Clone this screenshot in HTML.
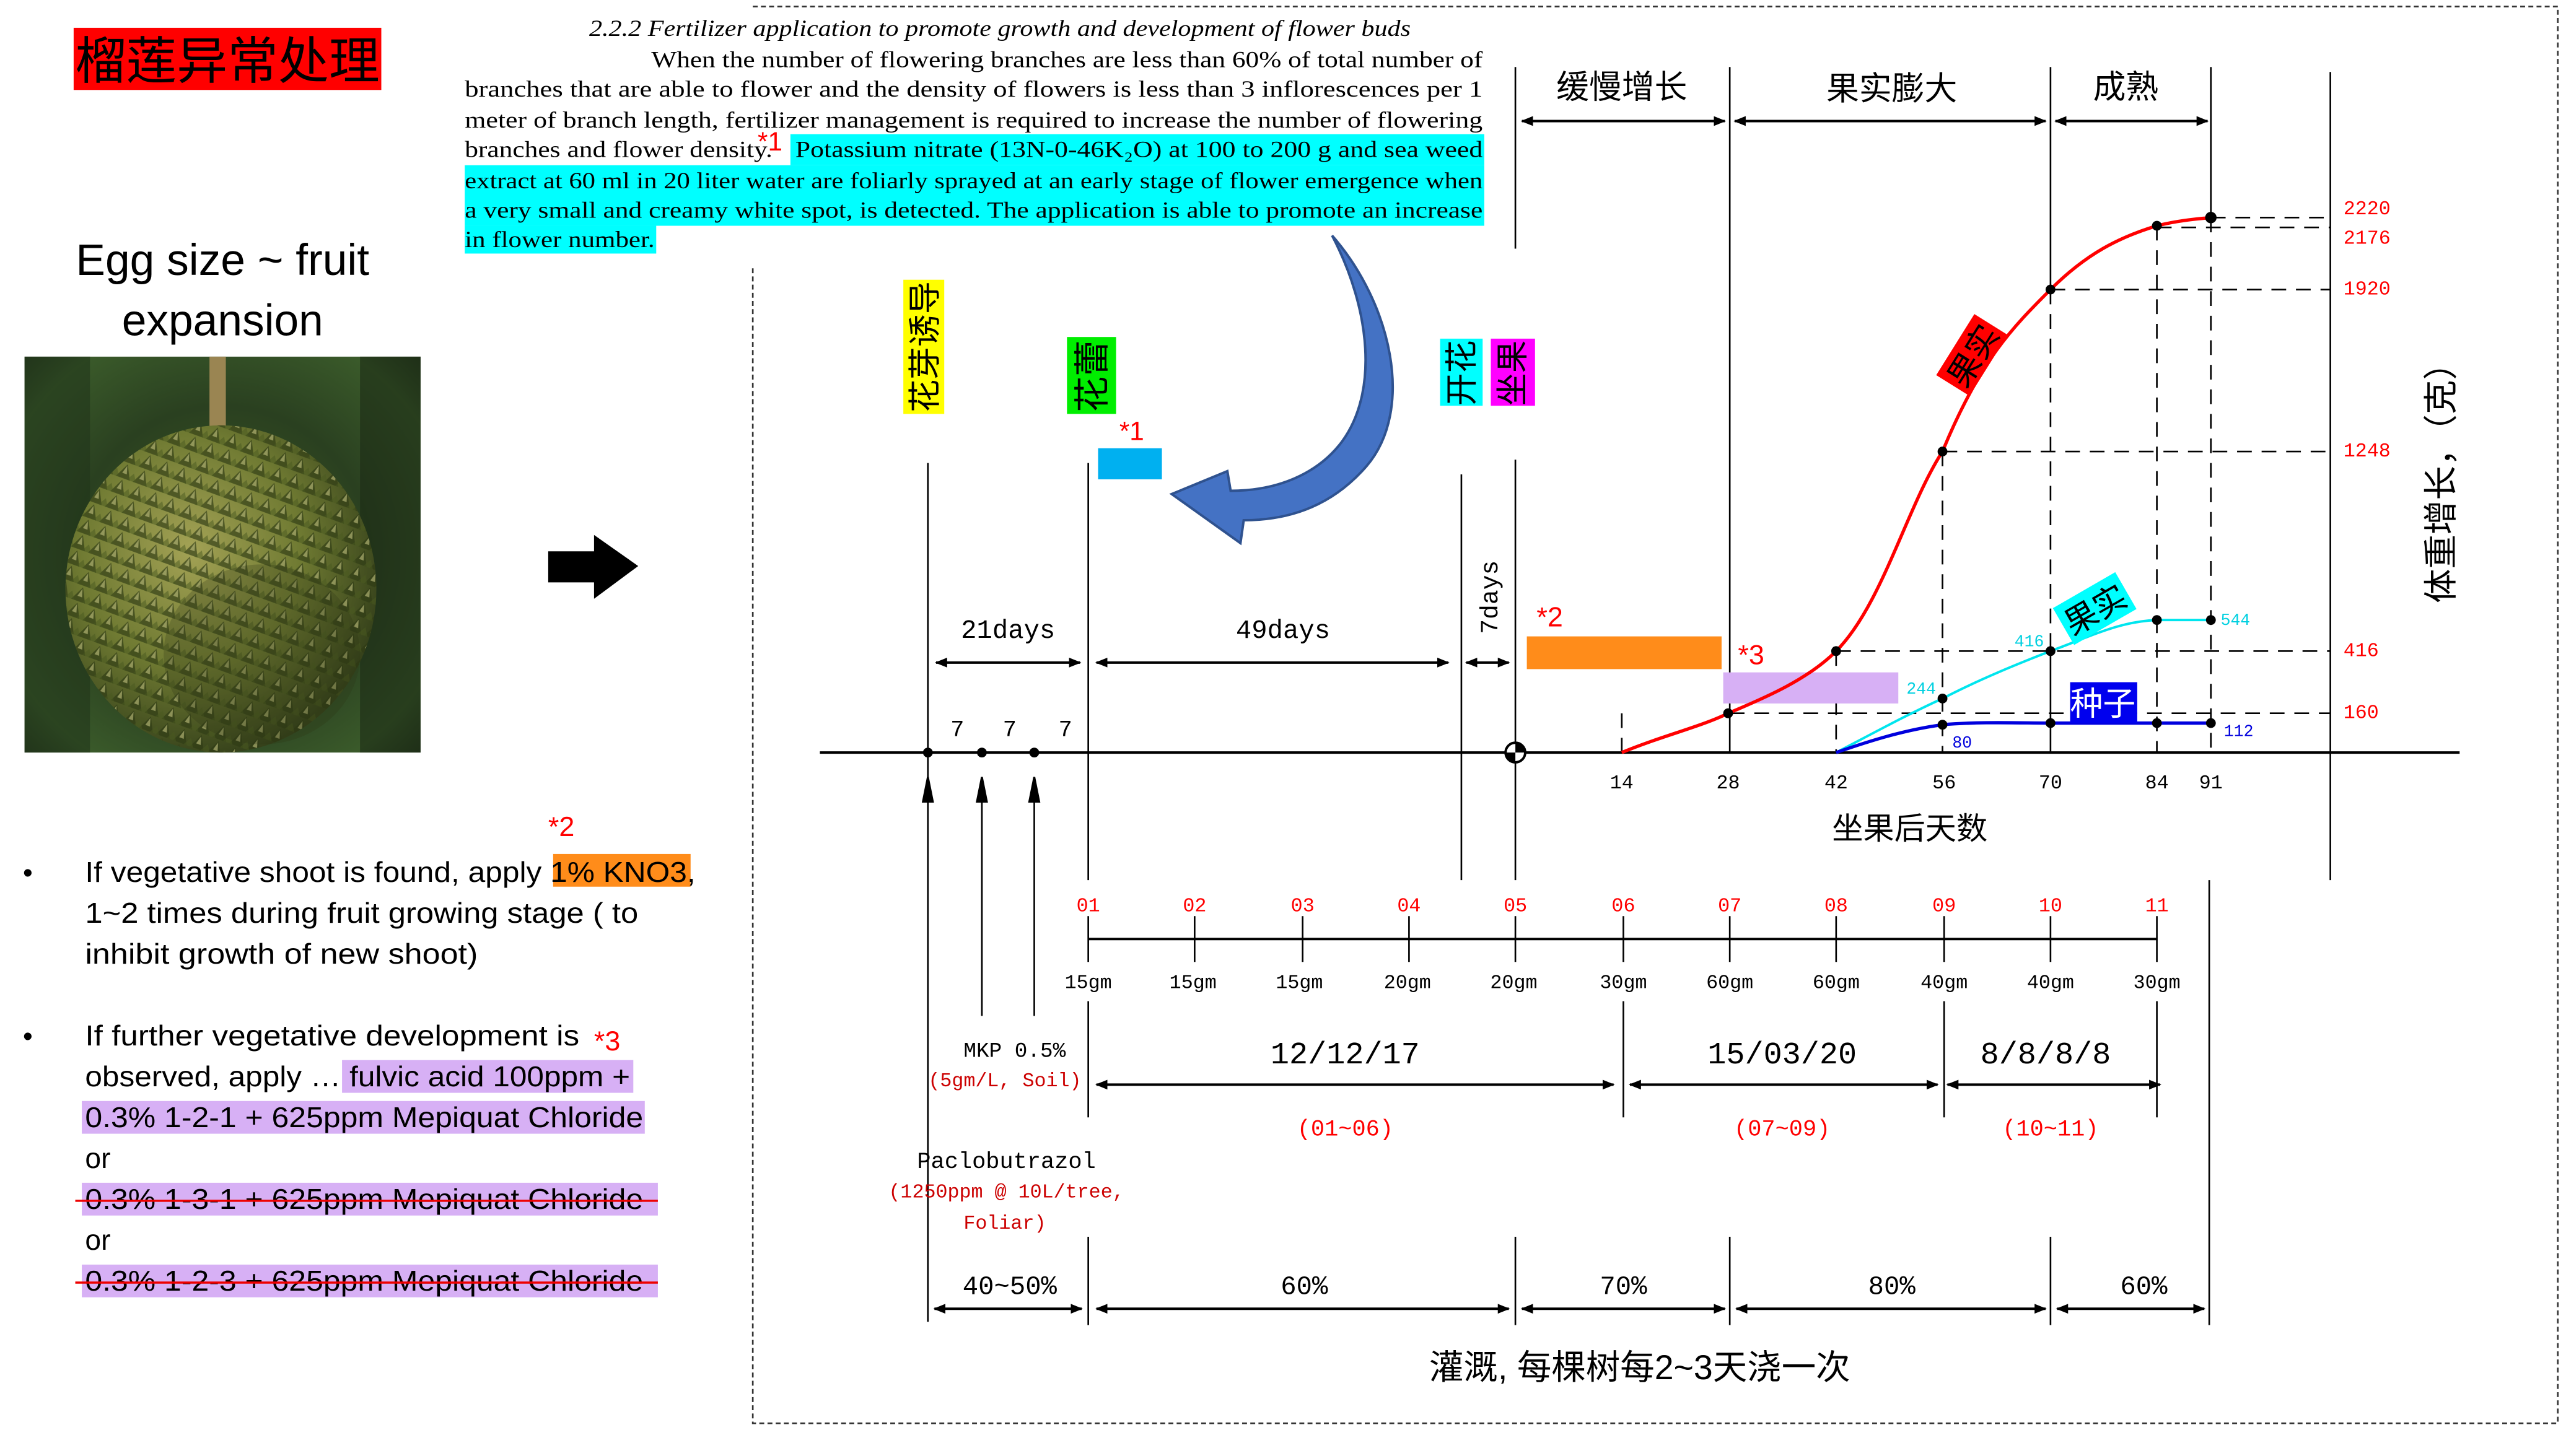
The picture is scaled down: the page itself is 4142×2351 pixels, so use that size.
<!DOCTYPE html>
<html><head><meta charset="utf-8"><style>
html,body{margin:0;padding:0;background:#fff;}
svg{display:block;}
.s{font-family:"Liberation Serif","Noto Serif CJK SC",serif;}
.m{font-family:"Liberation Mono","DejaVu Sans Mono",monospace;}
.c{font-family:"Liberation Sans","Noto Sans CJK SC",sans-serif;}
</style></head><body>
<svg width="4142" height="2351" viewBox="0 0 1568 890" xmlns="http://www.w3.org/2000/svg">
<defs>
<marker id="ah" viewBox="0 0 10 10" refX="9" refY="5" markerWidth="5" markerHeight="5" orient="auto-start-reverse"><path d="M0,1 L10,5 L0,9 z" fill="#000"/></marker>
<radialGradient id="bg" cx="50%" cy="50%" r="75%"><stop offset="0" stop-color="#3f5a25"/><stop offset="0.5" stop-color="#2a4020"/><stop offset="0.8" stop-color="#3a5a2a"/><stop offset="1" stop-color="#1a2815"/></radialGradient>
<radialGradient id="fr" cx="40%" cy="38%" r="65%"><stop offset="0" stop-color="#a3a255"/><stop offset="0.55" stop-color="#6f7a32"/><stop offset="1" stop-color="#34401a"/></radialGradient>
<pattern id="sp" width="11" height="10" patternUnits="userSpaceOnUse" patternTransform="rotate(20)"><path d="M5.5,0 L10,9 L1,9 z" fill="#2e3a14" opacity="0.65"/><path d="M5.5,1 L7,6 L4,6 z" fill="#d0cf8a" opacity="0.55"/><path d="M0,4 L3,9 L-3,9 z M11,4 L14,9 L8,9 z" fill="#4a5a20" opacity="0.5"/></pattern>
</defs>

<!-- left panel -->
<rect x="45" y="17" width="188" height="38" fill="#ff0000"/>
<text x="139" y="48" class="c" font-size="31" text-anchor="middle" fill="#000">榴莲异常处理</text>
<text x="136" y="168" class="c" font-size="27" text-anchor="middle">Egg size ~  fruit</text>
<text x="136" y="205" class="c" font-size="27" text-anchor="middle">expansion</text>
<rect x="15" y="218" width="242" height="242" fill="url(#bg)"/>
<rect x="15" y="218" width="40" height="242" fill="#22361a" opacity="0.6"/>
<rect x="220" y="218" width="37" height="242" fill="#1c2c16" opacity="0.6"/>
<rect x="128" y="218" width="10" height="55" fill="#9a8552"/>
<ellipse cx="135" cy="360" rx="95" ry="100" fill="url(#fr)"/>
<ellipse cx="135" cy="360" rx="95" ry="100" fill="url(#sp)"/>
<ellipse cx="160" cy="400" rx="60" ry="55" fill="#2a3412" opacity="0.25"/>
<path d="M335,337 H363 V327 L390,346 L363,366 V356 H335 z" fill="#000"/>

<text x="335" y="511" class="c" font-size="17" fill="#ff0000">*2</text>
<text x="14" y="539" class="c" font-size="17">•</text>
<rect x="338" y="522" width="84" height="20" fill="#ff8c1a"/>
<text x="52" y="539" class="c" font-size="17.5" textLength="373" lengthAdjust="spacingAndGlyphs">If vegetative shoot is found, apply 1% KNO3,</text>
<text x="52" y="564" class="c" font-size="17.5" textLength="338" lengthAdjust="spacingAndGlyphs">1~2 times during fruit growing stage ( to</text>
<text x="52" y="589" class="c" font-size="17.5" textLength="240" lengthAdjust="spacingAndGlyphs">inhibit growth of new shoot)</text>
<text x="14" y="639" class="c" font-size="17">•</text>
<text x="52" y="639" class="c" font-size="17.5" textLength="302" lengthAdjust="spacingAndGlyphs">If further vegetative development is</text>
<text x="363" y="642" class="c" font-size="17" fill="#ff0000">*3</text>
<rect x="209" y="648" width="178" height="20" fill="#d7b0f5"/>
<rect x="50" y="673" width="344" height="20" fill="#d7b0f5"/>
<rect x="50" y="723" width="352" height="20" fill="#d7b0f5"/>
<rect x="50" y="773" width="352" height="20" fill="#d7b0f5"/>
<text x="52" y="664" class="c" font-size="17.5" textLength="333" lengthAdjust="spacingAndGlyphs">observed, apply … fulvic acid 100ppm +</text>
<text x="52" y="689" class="c" font-size="17.5" textLength="341" lengthAdjust="spacingAndGlyphs">0.3% 1-2-1 + 625ppm Mepiquat Chloride</text>
<text x="52" y="714" class="c" font-size="17.5">or</text>
<text x="52" y="739" class="c" font-size="17.5" textLength="341" lengthAdjust="spacingAndGlyphs">0.3% 1-3-1 + 625ppm Mepiquat Chloride</text>
<text x="52" y="764" class="c" font-size="17.5">or</text>
<text x="52" y="789" class="c" font-size="17.5" textLength="341" lengthAdjust="spacingAndGlyphs">0.3% 1-2-3 + 625ppm Mepiquat Chloride</text>
<line x1="46" y1="734" x2="402" y2="734" stroke="#e00" stroke-width="1.3"/>
<line x1="46" y1="784" x2="402" y2="784" stroke="#e00" stroke-width="1.3"/>

<!-- paragraph -->
<rect x="483" y="82" width="424" height="19" fill="#00ffff"/>
<rect x="284" y="101" width="623" height="19" fill="#00ffff"/>
<rect x="284" y="120" width="623" height="18" fill="#00ffff"/>
<rect x="284" y="138" width="117" height="17" fill="#00ffff"/>
<g class="s" font-size="14">
<text x="360" y="22" font-style="italic" textLength="502" lengthAdjust="spacingAndGlyphs">2.2.2 Fertilizer application to promote growth and development of flower buds</text>
<text x="398" y="41" textLength="508" lengthAdjust="spacingAndGlyphs">When the number of flowering branches are less than 60% of total number of</text>
<text x="284" y="59" textLength="622" lengthAdjust="spacingAndGlyphs">branches that are able to flower and the density of flowers is less than 3 inflorescences per 1</text>
<text x="284" y="78" textLength="622" lengthAdjust="spacingAndGlyphs">meter of branch length, fertilizer management is required to increase the number of flowering</text>
<text x="284" y="96" textLength="188" lengthAdjust="spacingAndGlyphs">branches and flower density.</text>
<text x="486" y="96" textLength="420" lengthAdjust="spacingAndGlyphs">Potassium nitrate (13N-0-46K₂O) at 100 to 200 g and sea weed</text>
<text x="284" y="115" textLength="622" lengthAdjust="spacingAndGlyphs">extract at 60 ml in 20 liter water are foliarly sprayed at an early stage of flower emergence when</text>
<text x="284" y="133" textLength="622" lengthAdjust="spacingAndGlyphs">a very small and creamy white spot, is detected.  The application is able to promote an increase</text>
<text x="284" y="151" textLength="116" lengthAdjust="spacingAndGlyphs">in flower number.</text>
</g>
<text x="463" y="92" class="c" font-size="16" fill="#ff0000">*1</text>

<!-- dashed border -->
<path d="M460,4 H1563 V870 H460 V163" fill="none" stroke="#333" stroke-width="1" stroke-dasharray="3,2"/>

<!-- big blue curved arrow -->
<path d="M814,144 C850,185 865,250 835,285 C815,308 790,318 760,318 L758,332 L716,302 L750,288 L752,300 C780,300 805,290 820,270 C842,240 838,190 814,144 z" fill="#4472c4" stroke="#2f528f" stroke-width="1.5"/>

<!-- vertical labels -->
<rect x="552" y="171" width="25" height="82" fill="#ffff00"/>
<text transform="translate(572,212) rotate(-90)" class="c" font-size="20" text-anchor="middle">花芽诱导</text>
<rect x="652" y="206" width="30" height="47" fill="#00ee00"/>
<text transform="translate(675,230) rotate(-90)" class="c" font-size="22" text-anchor="middle">花蕾</text>
<rect x="880" y="207" width="26" height="41" fill="#00ffff"/>
<text transform="translate(900,228) rotate(-90)" class="c" font-size="20" text-anchor="middle">开花</text>
<rect x="911" y="207" width="27" height="41" fill="#ff00ff"/>
<text transform="translate(931,228) rotate(-90)" class="c" font-size="20" text-anchor="middle">坐果</text>
<rect x="671" y="274" width="39" height="19" fill="#00b0f0"/>
<text x="684" y="269" class="c" font-size="16" fill="#ff0000">*1</text>

<!-- vertical lines -->
<g stroke="#000" stroke-width="1">
<line x1="567" y1="283" x2="567" y2="808"/>
<line x1="665" y1="283" x2="665" y2="538"/>
<line x1="893" y1="290" x2="893" y2="538"/>
<line x1="926" y1="41" x2="926" y2="152"/>
<line x1="926" y1="281" x2="926" y2="538"/>
<line x1="1057" y1="41" x2="1057" y2="460"/>
<line x1="1253" y1="41" x2="1253" y2="177"/>
<line x1="1253" y1="398" x2="1253" y2="460"/>
<line x1="1351" y1="41" x2="1351" y2="133"/>
<line x1="1424" y1="44" x2="1424" y2="538"/>
<line x1="1350" y1="538" x2="1350" y2="810"/>
<line x1="600" y1="475" x2="600" y2="621"/>
<line x1="632" y1="475" x2="632" y2="621"/>
<line x1="665" y1="612" x2="665" y2="683"/>
<line x1="992" y1="612" x2="992" y2="683"/>
<line x1="1188" y1="612" x2="1188" y2="683"/>
<line x1="1318" y1="612" x2="1318" y2="683"/>
<line x1="665" y1="756" x2="665" y2="810"/>
<line x1="926" y1="756" x2="926" y2="810"/>
<line x1="1057" y1="756" x2="1057" y2="810"/>
<line x1="1253" y1="756" x2="1253" y2="810"/>
</g>
<g stroke="#000" stroke-width="1" stroke-dasharray="9,6" fill="none">
<line x1="1253" y1="177" x2="1253" y2="398"/>
<line x1="1351" y1="133" x2="1351" y2="460"/>
<line x1="1318" y1="138" x2="1318" y2="460"/>
<line x1="1187" y1="276" x2="1187" y2="460"/>
<line x1="1122" y1="398" x2="1122" y2="460"/>
<line x1="991" y1="436" x2="991" y2="460"/>
<line x1="1351" y1="133" x2="1424" y2="133"/>
<line x1="1318" y1="139" x2="1424" y2="139"/>
<line x1="1253" y1="177" x2="1424" y2="177"/>
<line x1="1187" y1="276" x2="1424" y2="276"/>
<line x1="1122" y1="398" x2="1424" y2="398"/>
<line x1="1057" y1="436" x2="1424" y2="436"/>
</g>

<!-- phase arrows -->
<g stroke="#000" stroke-width="1.5" marker-start="url(#ah)" marker-end="url(#ah)">
<line x1="930" y1="74" x2="1054" y2="74"/>
<line x1="1060" y1="74" x2="1250" y2="74"/>
<line x1="1256" y1="74" x2="1349" y2="74"/>
<line x1="572" y1="405" x2="660" y2="405"/>
<line x1="670" y1="405" x2="885" y2="405"/>
<line x1="896" y1="405" x2="922" y2="405"/>
<line x1="670" y1="663" x2="986" y2="663"/>
<line x1="996" y1="663" x2="1184" y2="663"/>
<line x1="1190" y1="663" x2="1320" y2="663"/>
<line x1="571" y1="800" x2="661" y2="800"/>
<line x1="670" y1="800" x2="922" y2="800"/>
<line x1="930" y1="800" x2="1054" y2="800"/>
<line x1="1061" y1="800" x2="1250" y2="800"/>
<line x1="1257" y1="800" x2="1347" y2="800"/>
</g>
<g class="c" font-size="20" text-anchor="middle">
<text x="991" y="60">缓慢增长</text>
<text x="1156" y="61">果实膨大</text>
<text x="1299" y="60">成熟</text>
<text x="1167" y="513" font-size="19">坐果后天数</text>
<text x="1002" y="843" font-size="21">灌溉, 每棵树每2~3天浇一次</text>
</g>
<text transform="translate(1499,290) rotate(-90)" class="c" font-size="21" text-anchor="middle">体重增长，（克）</text>

<!-- axis -->
<line x1="501" y1="460" x2="1503" y2="460" stroke="#000" stroke-width="1.5"/>
<circle cx="926" cy="460" r="6" fill="#fff" stroke="#000" stroke-width="1.5"/>
<path d="M926,454 A6,6 0 0 1 932,460 H926 z M926,466 A6,6 0 0 1 920,460 H926 z" fill="#000"/>
<g fill="#000"><circle cx="567" cy="460" r="3"/><circle cx="600" cy="460" r="3"/><circle cx="632" cy="460" r="3"/></g>
<g stroke="#000" stroke-width="1.2"><line x1="567" y1="490" x2="567" y2="475"/><path d="M564,490 L567,475 L570,490 z" fill="#000"/><line x1="600" y1="490" x2="600" y2="475"/><path d="M597,490 L600,475 L603,490 z" fill="#000"/><line x1="632" y1="490" x2="632" y2="475"/><path d="M629,490 L632,475 L635,490 z" fill="#000"/></g>
<g class="m" font-size="14" text-anchor="middle">
<text x="585" y="450">7</text><text x="617" y="450">7</text><text x="651" y="450">7</text>
<text x="616" y="390" font-size="16">21days</text>
<text x="784" y="390" font-size="16">49days</text>
<text transform="translate(915,365) rotate(-90)" font-size="15">7days</text>
<text x="991" y="482" font-size="12">14</text><text x="1056" y="482" font-size="12">28</text><text x="1122" y="482" font-size="12">42</text><text x="1188" y="482" font-size="12">56</text><text x="1253" y="482" font-size="12">70</text><text x="1318" y="482" font-size="12">84</text><text x="1351" y="482" font-size="12">91</text>
</g>
<g class="m" font-size="12" fill="#ff0000">
<text x="1432" y="131">2220</text><text x="1432" y="149">2176</text><text x="1432" y="180">1920</text><text x="1432" y="279">1248</text><text x="1432" y="401">416</text><text x="1432" y="439">160</text>
</g>

<!-- bars -->
<rect x="933" y="389" width="119" height="20" fill="#ff8c1a"/>
<text x="939" y="383" class="c" font-size="17" fill="#ff0000">*2</text>
<rect x="1053" y="411" width="107" height="19" fill="#d7b0f5"/>
<text x="1062" y="406" class="c" font-size="17" fill="#ff0000">*3</text>

<!-- curves -->
<path d="M991,460 C1015,450 1040,444 1056,436 C1080,426 1105,415 1122,398 C1150,370 1165,310 1187,276 C1210,220 1230,200 1253,177 C1275,155 1295,145 1318,138 C1330,135 1340,134 1351,133" fill="none" stroke="#ff0000" stroke-width="2"/>
<path d="M1122,460 C1145,448 1165,437 1187,427 C1210,415 1235,405 1253,398 C1280,388 1295,380 1318,379 L1351,379" fill="none" stroke="#00e5ee" stroke-width="1.5"/>
<path d="M1122,460 C1145,452 1165,446 1187,443 C1210,441 1235,442 1253,442 L1351,442" fill="none" stroke="#0000dd" stroke-width="2"/>
<g fill="#000">
<circle cx="1056" cy="436" r="3"/><circle cx="1122" cy="398" r="3"/><circle cx="1187" cy="276" r="3"/><circle cx="1253" cy="177" r="3"/><circle cx="1318" cy="138" r="3"/><circle cx="1351" cy="133" r="3.5"/>
<circle cx="1187" cy="427" r="3"/><circle cx="1253" cy="398" r="3"/><circle cx="1318" cy="379" r="3"/><circle cx="1351" cy="379" r="3"/>
<circle cx="1187" cy="443" r="3"/><circle cx="1253" cy="442" r="3"/><circle cx="1318" cy="442" r="3"/><circle cx="1351" cy="442" r="3"/>
</g>
<g class="m" font-size="10">
<text x="1231" y="395" fill="#00d0e0">416</text><text x="1165" y="424" fill="#00d0e0">244</text><text x="1357" y="382" fill="#00d0e0">544</text>
<text x="1193" y="457" fill="#0000dd">80</text><text x="1359" y="450" fill="#0000dd">112</text>
</g>
<g transform="translate(1205,217) rotate(-58)"><rect x="-22" y="-12" width="44" height="24" fill="#ff0000"/><text x="0" y="8" class="c" font-size="20" text-anchor="middle">果实</text></g>
<g transform="translate(1280,372) rotate(-30)"><rect x="-22" y="-13" width="44" height="26" fill="#00ffff"/><text x="0" y="8" class="c" font-size="20" text-anchor="middle">果实</text></g>
<rect x="1265" y="417" width="41" height="25" fill="#0000ee"/>
<text x="1285" y="437" class="c" font-size="20" text-anchor="middle" fill="#fff">种子</text>

<!-- month timeline -->
<line x1="665" y1="574" x2="1318" y2="574" stroke="#000" stroke-width="1.5"/>
<g stroke="#000" stroke-width="1">
<line x1="665" y1="560" x2="665" y2="588"/><line x1="730" y1="560" x2="730" y2="588"/><line x1="796" y1="560" x2="796" y2="588"/><line x1="861" y1="560" x2="861" y2="588"/><line x1="926" y1="560" x2="926" y2="588"/><line x1="992" y1="560" x2="992" y2="588"/><line x1="1057" y1="560" x2="1057" y2="588"/><line x1="1122" y1="560" x2="1122" y2="588"/><line x1="1188" y1="560" x2="1188" y2="588"/><line x1="1253" y1="560" x2="1253" y2="588"/><line x1="1318" y1="560" x2="1318" y2="588"/>
</g>
<g class="m" font-size="12" text-anchor="middle" fill="#ff0000">
<text x="665" y="557">01</text><text x="730" y="557">02</text><text x="796" y="557">03</text><text x="861" y="557">04</text><text x="926" y="557">05</text><text x="992" y="557">06</text><text x="1057" y="557">07</text><text x="1122" y="557">08</text><text x="1188" y="557">09</text><text x="1253" y="557">10</text><text x="1318" y="557">11</text>
</g>
<g class="m" font-size="12" text-anchor="middle">
<text x="665" y="604">15gm</text><text x="729" y="604">15gm</text><text x="794" y="604">15gm</text><text x="860" y="604">20gm</text><text x="925" y="604">20gm</text><text x="992" y="604">30gm</text><text x="1057" y="604">60gm</text><text x="1122" y="604">60gm</text><text x="1188" y="604">40gm</text><text x="1253" y="604">40gm</text><text x="1318" y="604">30gm</text>
<text x="620" y="646" font-size="13">MKP 0.5%</text>
<text x="614" y="664" font-size="12" fill="#c00">(5gm/L, Soil)</text>
<text x="822" y="650" font-size="19">12/12/17</text>
<text x="1089" y="650" font-size="19">15/03/20</text>
<text x="1250" y="650" font-size="19">8/8/8/8</text>
<text x="822" y="694" font-size="14" fill="#ff0000">(01~06)</text>
<text x="1089" y="694" font-size="14" fill="#ff0000">(07~09)</text>
<text x="1253" y="694" font-size="14" fill="#ff0000">(10~11)</text>
<text x="615" y="714" font-size="14">Paclobutrazol</text>
<text x="615" y="732" font-size="12" fill="#c00">(1250ppm @ 10L/tree,</text>
<text x="614" y="751" font-size="12" fill="#c00">Foliar)</text>
<text x="617" y="791" font-size="16">40~50%</text>
<text x="797" y="791" font-size="16">60%</text>
<text x="992" y="791" font-size="16">70%</text>
<text x="1156" y="791" font-size="16">80%</text>
<text x="1310" y="791" font-size="16">60%</text>
</g>
</svg>
</body></html>
